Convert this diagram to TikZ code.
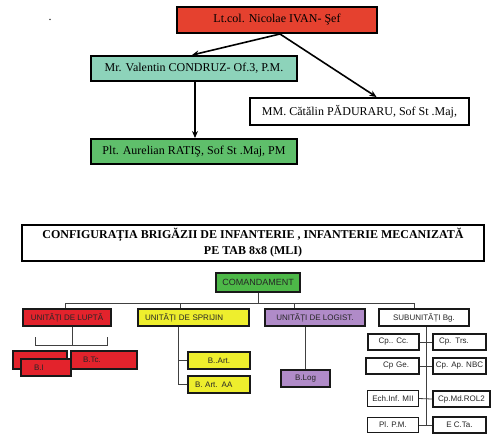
\documentclass[tikz,border=0pt]{standalone}
\usepackage{fontspec}
\setmainfont{Liberation Serif}
\newfontfamily\sansf{Liberation Sans}
\usetikzlibrary{arrows.meta}
\definecolor{chiefred}{HTML}{E5412F}
\definecolor{tealc}{HTML}{8DD3BA}
\definecolor{greenc}{HTML}{5FBF6B}
\definecolor{cmdgreen}{HTML}{4DB848}
\definecolor{redc}{HTML}{E3232C}
\definecolor{yellowc}{HTML}{EEEE2D}
\definecolor{purplec}{HTML}{B08BC8}
\begin{document}
\begin{tikzpicture}[x=1pt,y=-1pt,
  topbox/.style={draw=black,line width=2pt,inner sep=0pt,font=\fontsize{12}{14}\selectfont},
  box/.style={draw=black!90,line width=2pt,inner sep=0pt,font=\sansf\fontsize{8}{9.5}\selectfont,text=black!85},
  thinbox/.style={box,line width=0.8pt},
  conn/.style={draw=black!75,line width=0.8pt},
  arr/.style={draw=black,line width=1.6pt,-{Stealth[length=7pt,width=6pt]}},
  lpad/.style 2 args={text width=#1,inner xsep=#2,align=left},
  rpad/.style 2 args={text width=#1,inner xsep=#2,align=right},
  sz/.style 2 args={minimum width=#1,minimum height=#2}]
\useasboundingbox[fill=white] (0,0) rectangle (500,440);

% ---------- top chart ----------
\node[font=\fontsize{12}{14}\selectfont] (dot) at (50,20) {.};
\node[topbox,fill=chiefred,sz={200pt}{26pt}] (chief) at (277,20) {Lt.col. Nicolae IVAN- Şef};
\node[topbox,fill=tealc,sz={206pt}{25pt}] (condr) at (194,68.5) {Mr. Valentin CONDRUZ- Of.3, P.M.};
\node[topbox,fill=white,sz={219pt}{27pt}] (padu) at (359.5,111.5) {MM. Cătălin PĂDURARU, Sof St .Maj,};
\node[topbox,fill=greenc,sz={206pt}{25pt}] (ratis) at (194,151.5) {Plt. Aurelian RATIŞ, Sof St .Maj, PM};
\draw[arr] ([xshift=3pt]chief.south) -- ([xshift=-2pt]condr.north);
\draw[arr] ([xshift=3pt]chief.south) -- ([xshift=17pt]padu.north);
\draw[arr] ([xshift=1pt]condr.south) -- ([xshift=1pt]ratis.north);

% ---------- title ----------
\node[draw=black,line width=2pt,sz={462pt}{36pt},inner sep=0pt,align=center,
      font=\bfseries\fontsize{12}{16}\selectfont] (title) at (253,243)
  {CONFIGURAȚIA BRIGĂZII DE INFANTERIE , INFANTERIE MECANIZATĂ\\PE TAB 8x8 (MLI)};

% ---------- commandment and bus ----------
\node[box,fill=cmdgreen,sz={84pt}{19pt},font=\sansf\fontsize{9}{10}\selectfont] (cmd) at (258,282.5) {COMANDAMENT};
\coordinate (bus) at (258,303);
\coordinate (busL) at (65,303);
\coordinate (busB) at (180,303);
\coordinate (busC) at (294,303);
\coordinate (busR) at (414,303);
\draw[conn] (cmd.south) -- (bus);
\draw[conn] (busL) -- (busR);

% ---------- level 1 ----------
\node[box,fill=redc,sz={88pt}{17pt}] (lupta) at (67,317.5) {UNITĂȚI DE LUPTĂ};
\node[box,fill=yellowc,sz={111pt}{17pt},lpad={97pt}{7pt}] (sprijin) at (193.5,317.5) {UNITĂȚI DE SPRIJIN};
\node[box,fill=purplec,sz={100pt}{17pt}] (logist) at (315,317.5) {UNITĂȚI DE LOGIST.};
\node[box,fill=white,sz={90pt}{17pt}] (subunit) at (424,317.5) {SUBUNITĂȚI Bg.};
\draw[conn] (busL) -- (busL |- lupta.north);
\draw[conn] (busB) -- (busB |- sprijin.north);
\draw[conn] (busC) -- (busC |- logist.north);
\draw[conn] (busR) -- (busR |- subunit.north);

% ---------- combat units ----------
\coordinate (lj) at (72,345);
\coordinate (lbl) at (35,345);
\coordinate (lbr) at (107,345);
\draw[conn] (lupta.south -| lj) -- (lj);
\draw[conn] ([yshift=8pt]lbl) -- (lbl) -- (lbr) -- ([yshift=8pt]lbr);
\node[box,fill=redc,sz={54pt}{18pt}] (lupback) at (40,360) {};
\node[box,fill=redc,sz={66pt}{18pt},lpad={42pt}{12pt}] (btc) at (104,360) {B.Tc.};
\node[box,fill=redc,sz={50pt}{17pt},lpad={24pt}{13pt}] (bi) at (46,367.5) {B.I};

% ---------- support units ----------
\node[box,fill=yellowc,sz={62pt}{17pt}] (bart) at (219,360.5) {B..Art.};
\node[box,fill=yellowc,sz={62pt}{17pt},lpad={48pt}{7pt}] (bartaa) at (219,384.5) {B. Art. AA};
\coordinate (sv) at (178,384.5);
\draw[conn] (sprijin.south -| sv) -- (sv) -- (bartaa.west);
\draw[conn] (sv |- bart.west) -- (bart.west);

% ---------- logistics ----------
\node[box,fill=purplec,sz={49pt}{17pt}] (blog) at (305.5,378.5) {B.Log};
\draw[conn] (logist.south -| blog.north) -- (blog.north);

% ---------- sub-units ----------
\coordinate (sv2) at (426,425);
\draw[conn] (subunit.south -| sv2) -- (sv2);
\node[box,fill=white,sz={51pt}{16pt}] (cc) at (393.5,342) {Cp.. Cc.};
\node[box,fill=white,sz={53pt}{16pt},lpad={41pt}{6pt}] (trs) at (459.5,342) {Cp. Trs.};
\node[box,fill=white,sz={53pt}{16pt},rpad={33pt}{10pt}] (ge) at (392.5,366) {Cp Ge.};
\node[box,fill=white,sz={53pt}{16pt}] (nbc) at (459.5,366) {Cp. Ap. NBC};
\node[thinbox,fill=white,sz={51pt}{16pt}] (ech) at (393,398.5) {Ech.Inf. MII};
\node[box,fill=white,sz={57pt}{16pt}] (rol) at (461.5,399) {Cp.Md.ROL2};
\node[thinbox,fill=white,sz={51pt}{15pt}] (pl) at (393,425) {Pl. P.M.};
\node[box,fill=white,sz={53pt}{16pt}] (ecta) at (459.5,425) {E C.Ta.};
\draw[conn] (cc.east) -- (trs.west);
\draw[conn] (ge.east) -- (nbc.west);
\draw[conn] (ech.east) -- (rol.west);
\draw[conn] (pl.east) -- (ecta.west);
\end{tikzpicture}
\end{document}
